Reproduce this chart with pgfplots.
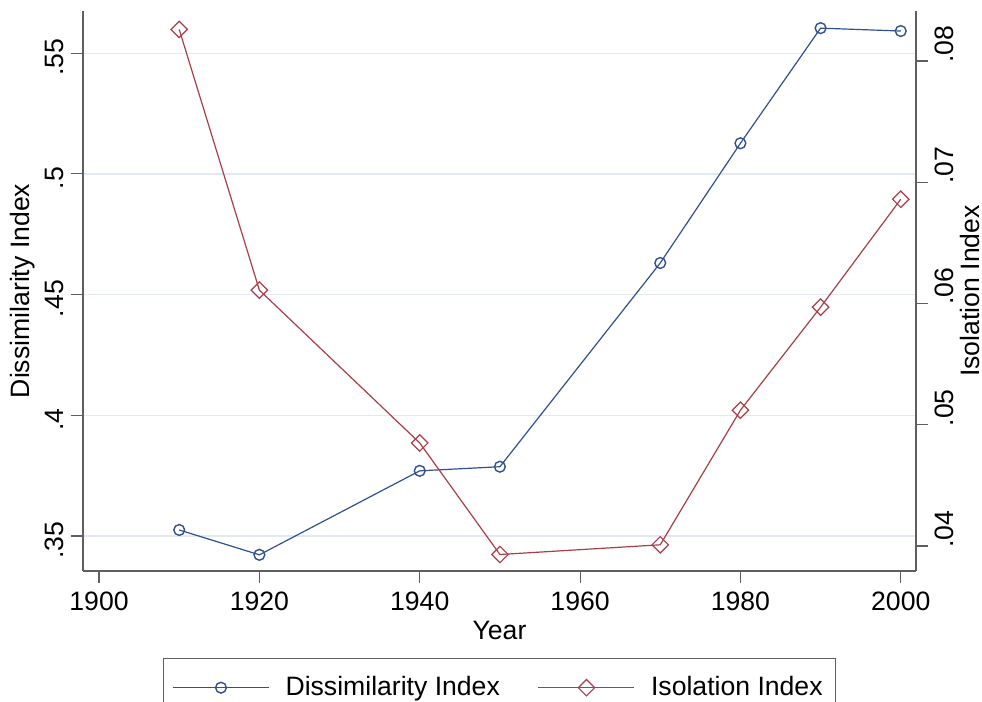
\documentclass[border=0pt]{standalone}
\usepackage{fontspec}
\setmainfont{Liberation Sans}
\usepackage{pgfplots}
\pgfplotsset{compat=1.18}
\definecolor{bluel}{RGB}{48,80,146}
\definecolor{redl}{RGB}{168,62,72}
\definecolor{gridc}{RGB}{226,233,242}
\definecolor{axc}{RGB}{95,95,95}
\newcommand{\fs}{\fontsize{13.3}{16}\selectfont}
\begin{document}
\begin{tikzpicture}
\pgfplotsset{
  common/.style={
    scale only axis, width=416.5pt, height=280pt,
    xmin=1898, xmax=2001.9,
    tick align=outside, major tick length=6pt,
    axis line style={color=axc, line width=0.55pt, -},
    tick style={color=axc, line width=0.55pt},
    tick label style={font=\fs},
    scaled y ticks=false, scaled x ticks=false,
    /pgf/number format/assume math mode=true,
    clip=false,
  }
}
\begin{axis}[common,
  ymin=0.3355, ymax=0.5675,
  axis x line*=bottom, axis y line*=left,
  xtick={1900,1920,1940,1960,1980,2000},
  xticklabels={1900,1920,1940,1960,1980,2000},
  xticklabel style={yshift=-1pt},
  ytick={0.35,0.4,0.45,0.5,0.55},
  yticklabels={.35,.4,.45,.5,.55},
  yticklabel style={rotate=90, anchor=south, xshift=-2pt},
  ymajorgrids, grid style={color=gridc, line width=0.6pt},
  xlabel={Year}, ylabel={Dissimilarity Index},
  every axis x label/.style={at={(axis description cs:0.5,0)}, yshift=-29.5pt, anchor=center, font=\fs},
  every axis y label/.style={at={(axis description cs:0,0.5)}, xshift=-30.3pt, rotate=90, anchor=center, font=\fs},
]
\addplot[color=bluel, line width=0.6pt, mark=o, mark size=2.7pt, mark options={solid, line width=0.7pt}]
  coordinates {(1910,0.3525) (1920,0.3422) (1940,0.3770) (1950,0.3787) (1970,0.4631) (1980,0.5127) (1990,0.5604) (2000,0.5592)};
\end{axis}
\begin{axis}[common,
  ymin=0.03794, ymax=0.08412,
  axis y line*=right, axis x line=none,
  ytick={0.04,0.05,0.06,0.07,0.08},
  yticklabels={.04,.05,.06,.07,.08},
  yticklabel style={rotate=90, anchor=north, xshift=8.5pt},
  ylabel={Isolation Index},
  every axis y label/.style={at={(axis description cs:1,0.5)}, xshift=26.8pt, rotate=90, anchor=center, font=\fs},
  legend columns=2,
  legend style={at={(axis description cs:0.5,0)}, anchor=north, yshift=-43.5pt,
    draw=axc, line width=0.55pt, font=\fs, inner xsep=4.5pt, inner ysep=7pt,
    /tikz/every odd column/.append style={column sep=6pt},
    /tikz/every even column/.append style={column sep=17pt}},
  legend image code/.code={\draw[mark repeat=2, mark phase=2] plot coordinates {(0pt,0pt) (24pt,0pt) (48pt,0pt)};},
]
\addlegendimage{color=bluel, line width=0.6pt, mark=o, mark size=2.7pt, mark options={solid, line width=0.7pt}}
\addlegendentry{Dissimilarity Index}
\addplot[color=redl, line width=0.6pt, mark=square, mark size=2.9pt, mark options={solid, rotate=45}]
  coordinates {(1910,0.0826) (1920,0.0611) (1940,0.0485) (1950,0.0393) (1970,0.0401) (1980,0.0512) (1990,0.0597) (2000,0.0686)};
\addlegendentry{Isolation Index}
\end{axis}
\pgfresetboundingbox
\path[use as bounding box] (-41.5pt,-65.5pt) rectangle (449.5pt,285.5pt);
\end{tikzpicture}
\end{document}
